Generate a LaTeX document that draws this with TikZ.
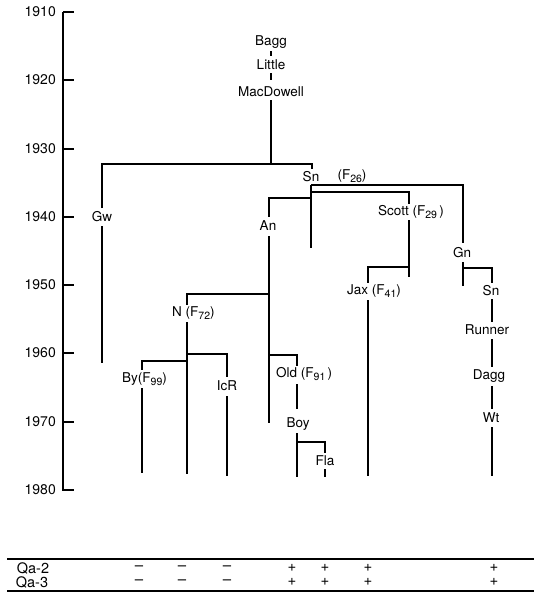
\documentclass[tikz,border=0pt]{standalone}
\usepackage{fontspec}
\setmainfont{TeX Gyre Heros}
\newcommand\lsub[1]{\raisebox{-0.45ex}{\fontsize{10.5}{11}\selectfont #1}}
\begin{document}
\begin{tikzpicture}[x=1pt,y=-1pt,
  lbl/.style={inner sep=1pt,font=\fontsize{13.5}{15}\selectfont},
  yr/.style={anchor=east,inner sep=0pt,font=\fontsize{14}{16}\selectfont},
  tree/.style={line width=2.4pt},
  axis/.style={line width=1.4pt},
  rule/.style={line width=1.1pt},
  qa/.style={inner sep=0pt,font=\fontsize{14.5}{15}\selectfont},
  sgn/.style={inner sep=0pt,font=\fontsize{15}{15}\selectfont}]
\useasboundingbox (0,0) rectangle (537,600);
% axis
\draw[axis] (63,12) -- (63,490) -- (74,490);
\foreach \yy/\lab in {12/1910,80/1920,149/1930,217/1940,285/1950,353/1960,422/1970,490/1980}{
  \draw[axis] (63,\yy) -- (74,\yy);
  \node[yr] (y\lab) at (56,\yy) {\lab};
}
% labels
\node[lbl] (bagg) at (271,42) {Bagg};
\node[lbl] (little) at (271,65) {Little};
\node[lbl] (mac) at (271,92) {MacDowell};
\node[lbl] (gw) at (102,217) {Gw};
\node[lbl] (sn1) at (311,177) {Sn};
\node[lbl] (f26) at (352,176) {(F\lsub{26})};
\node[lbl] (an) at (268,226) {An};
\node[lbl,anchor=west] (scott) at (377,212) {Scott (F\lsub{29}\,)};
\node[lbl] (gn) at (462,253) {Gn};
\node[lbl,anchor=west] (jax) at (346,291) {Jax (F\lsub{41})};
\node[lbl] (sn2) at (491,291) {Sn};
\node[lbl] (runner) at (487,330) {Runner};
\node[lbl] (dagg) at (489,376) {Dagg};
\node[lbl] (wt) at (491,418) {Wt};
\node[lbl,anchor=west] (n) at (171,313) {N (F\lsub{72})};
\node[lbl,anchor=west] (by) at (121,379) {By(F\lsub{99})};
\node[lbl] (icr) at (227,386) {IcR};
\node[lbl,anchor=west] (old) at (275,374) {Old (F\lsub{91}\,)};
\node[lbl] (boy) at (298,424) {Boy};
\node[lbl] (fla) at (325,461) {Fla};
% top lineage
\draw[line width=2pt] (271,51) -- (271,56);
\draw[line width=2pt] (271,73) -- (271,80);
\draw[tree] (271,100) -- (271,164);
\draw[tree] (102,208) -- (102,164) -- (312,164) -- (312,169);
\draw[tree] (102,226) -- (102,363);
% Sn subtree
\draw[tree] (311,185) -- (311,248);
\draw[tree] (311,185) -- (463,185) -- (463,243);
\draw[tree] (311,192) -- (409,192) -- (409,204);
\draw[tree] (311,198) -- (269,198) -- (269,217);
% Scott / Jax
\draw[tree] (409,220) -- (409,277);
\draw[tree] (409,267) -- (368,267) -- (368,283);
\draw[tree] (368,300) -- (368,476);
% Gn line
\draw[tree] (463,262) -- (463,286);
\draw[tree] (463,268) -- (492,268) -- (492,283);
\draw[tree] (492,299) -- (492,322);
\draw[tree] (492,339) -- (492,367);
\draw[tree] (492,386) -- (492,409);
\draw[tree] (492,427) -- (492,476);
% An subtree
\draw[tree] (269,236) -- (269,423);
\draw[tree] (269,294) -- (187,294) -- (187,305);
\draw[tree] (187,322) -- (187,474);
\draw[tree] (187,354) -- (227,354) -- (227,377);
\draw[tree] (227,396) -- (227,476);
\draw[tree] (187,361) -- (142,361) -- (142,370);
\draw[tree] (142,388) -- (142,473);
\draw[tree] (269,355) -- (297,355) -- (297,366);
\draw[tree] (297,384) -- (297,409);
\draw[tree] (297,433) -- (297,477);
\draw[tree] (297,442) -- (325,442) -- (325,453);
\draw[tree] (325,469) -- (325,477);
% table
\draw[rule] (7,559) -- (534,559);
\draw[rule] (7,591) -- (534,591);
\node[qa] (qa2) at (33,568) {Qa-2};
\node[qa] (qa3) at (32,582) {Qa-3};
\foreach \xx/\s in {139/--,182/--,227/--,292/+,325/+,368/+,494/+}{
  \node[sgn] at (\xx,568) {\s};
  \node[sgn] at (\xx,582) {\s};
}
\end{tikzpicture}
\end{document}
